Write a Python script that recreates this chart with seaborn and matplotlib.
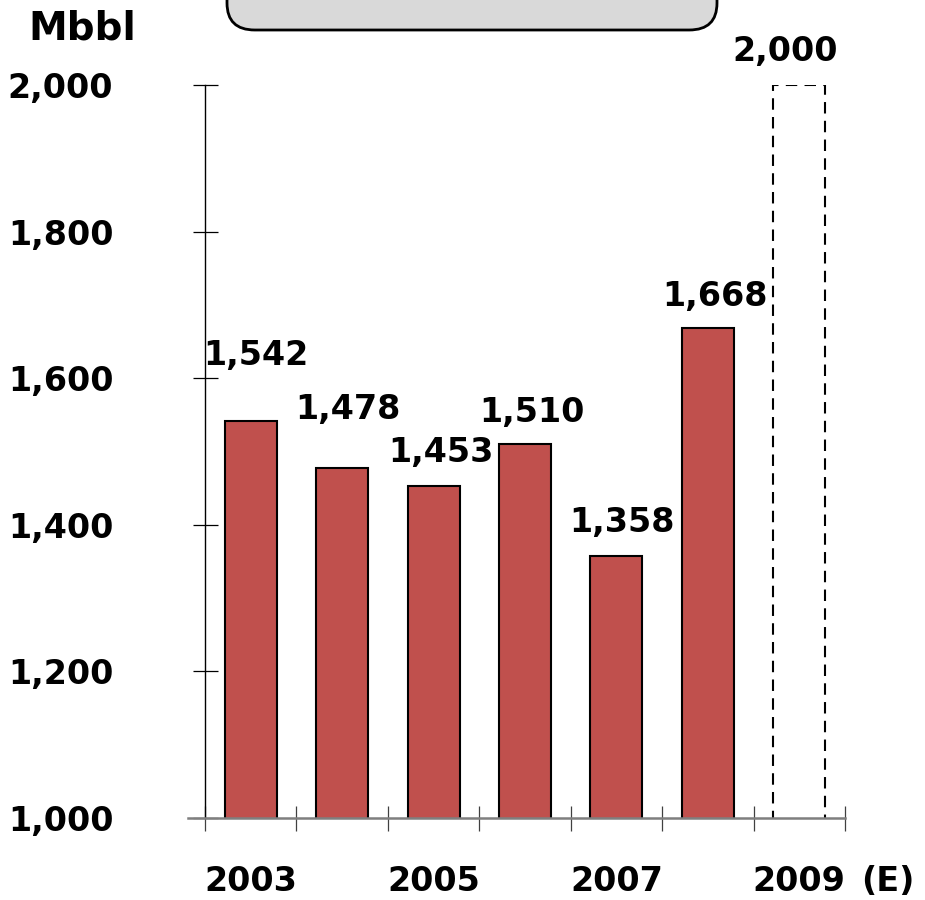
import matplotlib
matplotlib.use("Agg")
import matplotlib.pyplot as plt
from matplotlib.patches import FancyBboxPatch
from matplotlib.transforms import blended_transform_factory
import seaborn as sns
import pandas as pd

# Annual volumes (million barrels); the last year is an estimate
years = ["2003", "2004", "2005", "2006", "2007", "2008", "2009"]
volumes = [1542, 1478, 1453, 1510, 1358, 1668, 2000]
value_labels = ["1,542", "1,478", "1,453", "1,510", "1,358", "1,668", "2,000"]
tick_labels = ["2003", "", "2005", "", "2007", "", "2009"]
y_ticks = [1000, 1200, 1400, 1600, 1800, 2000]
y_tick_labels = ["1,000", "1,200", "1,400", "1,600", "1,800", "2,000"]

# Per-label nudges (points) for the value annotations
label_dx = [4, 4, 5, 5, 4, 5, -10]
label_dy = [47, 42, 24, 23, 24, 23, 24]

sns.set_theme(style="white")
plt.rcParams["font.family"] = ["DejaVu Sans"]
plt.rcParams["font.weight"] = "bold"
plt.rcParams["text.color"] = "black"
plt.rcParams["xtick.color"] = "black"
plt.rcParams["ytick.color"] = "black"

BAR_RED = "#C0504D"
FS = 24

df = pd.DataFrame({"year": years, "volume": volumes})

# Axes span x from -0.69 to 6.5 (category units); y axis sits at -0.5
x_lo, x_hi = -0.69, 6.5
px_per_unit = 640 / 7
left_px = 205 - (-0.5 - x_lo) * px_per_unit
right_px = 845

fig = plt.figure(figsize=(9.25, 9), dpi=100)
ax = fig.add_axes([left_px / 925, 82 / 900, (right_px - left_px) / 925, 733 / 900])

sns.barplot(data=df, x="year", y="volume", order=years, color=BAR_RED,
            saturation=1, width=0.57, edgecolor="black", linewidth=1.5, ax=ax)

# Estimated year: empty dashed outline
est = ax.patches[-1]
est.set_facecolor("none")
est.set_linestyle((0, (5.5, 3.5)))
est.set_linewidth(1.5)

ax.set_ylim(1000, 2000)
ax.set_xlim(x_lo, x_hi)
ax.set_xlabel("")
ax.set_ylabel("")

for sp in ["top", "right"]:
    ax.spines[sp].set_visible(False)
ax.spines["left"].set_position(("data", -0.5))
ax.spines["left"].set_color("black")
ax.spines["left"].set_linewidth(1.0)
ax.spines["bottom"].set_color("#7f7f7f")
ax.spines["bottom"].set_linewidth(1.8)

ax.set_yticks(y_ticks)
ax.set_yticklabels(y_tick_labels, fontsize=FS, fontweight="bold")
ax.tick_params(axis="y", direction="inout", length=18, width=0.9,
               color="black", labelcolor="black", pad=57, left=True)

# Category labels sit at bar centres; boundary ticks drawn as minor ticks
ax.set_xticks(range(len(years)))
ax.set_xticklabels(tick_labels, fontsize=FS, fontweight="bold")
ax.tick_params(axis="x", which="major", length=0, pad=34, labelcolor="black")
ax.set_xticks([i - 0.5 for i in range(len(years) + 1)], minor=True)
ax.tick_params(axis="x", which="minor", direction="inout", length=18,
               width=0.9, color="#404040", bottom=True)

trans = blended_transform_factory(ax.transData, ax.transAxes)
ax.text(len(years) - 1 + 0.68, -0.064, "(E)", transform=trans,
        fontsize=FS, fontweight="bold", ha="left", va="top", color="black")

for i, (v, lab) in enumerate(zip(volumes, value_labels)):
    ax.annotate(lab, xy=(i, v), xytext=(label_dx[i], label_dy[i]),
                textcoords="offset points", ha="center", va="center",
                fontsize=FS, fontweight="bold", color="black",
                annotation_clip=False)

fig.text(82 / 925, 1 - 28 / 900, "Mbbl", fontsize=28, fontweight="bold",
         ha="center", va="center", color="black")

# Rounded banner at the top edge
banner = FancyBboxPatch((227 / 925, 1 - 30 / 900), 490 / 925, 0.1,
                        boxstyle="round,pad=0,rounding_size=0.03",
                        transform=fig.transFigure, facecolor="#D9D9D9",
                        edgecolor="black", linewidth=2, clip_on=False)
fig.patches.append(banner)

fig.savefig("out.png", dpi=100)
